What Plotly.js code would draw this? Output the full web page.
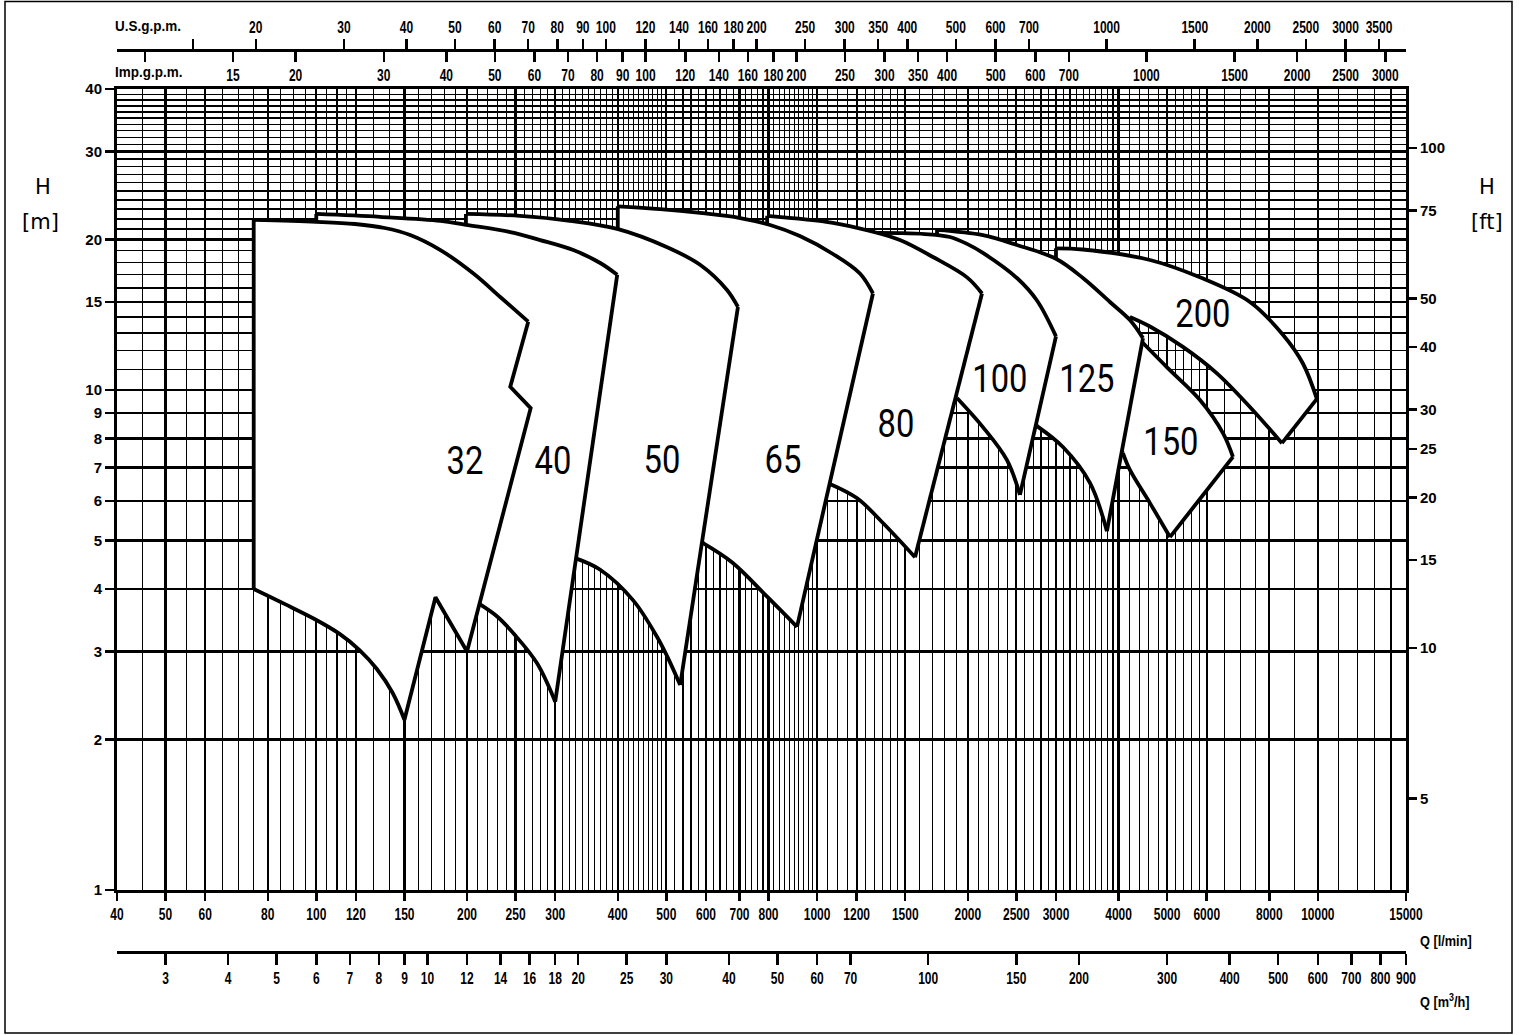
<!DOCTYPE html>
<html><head><meta charset="utf-8">
<script src="https://cdn.plot.ly/plotly-3.0.1.min.js"></script>
<style>html,body{margin:0;padding:0;background:#fff}#chart{width:1519px;height:1035px}</style>
</head><body><div id="chart"></div>
<script>
// ---------- axis tick values ----------
const qTicks = [40,50,60,80,100,120,150,200,250,300,400,500,600,700,800,1000,1200,1500,2000,2500,3000,4000,5000,6000,8000,10000,15000];
const qMinor = [45,55,65,70,75,85,90,95,105,110,115,130,140,160,170,180,190,
  210,220,230,240,260,270,280,290,310,320,330,340,350,360,370,380,390,
  410,420,430,440,450,460,470,480,490,520,540,560,580,620,640,660,680,720,740,760,780,
  820,840,860,880,900,920,940,960,980,1050,1100,1150,1250,1300,1350,1400,1450,
  1600,1700,1800,1900,2100,2200,2300,2400,2600,2700,2800,2900,
  3100,3200,3300,3400,3500,3600,3700,3800,3900,4200,4400,4600,4800,5200,5400,5600,5800,
  6500,7000,7500,9000,11000,12000,13000,14000];
const hTicks = [1,2,3,4,5,6,7,8,9,10,15,20,30,40];
const hMinor = [11,12,13,14,16,17,18,19,21,22,23,24,25,26,27,28,29,31,32,33,34,35,36,37,38,39];
const ftTicks = [5,10,15,20,25,30,40,50,75,100];
const usTicks = [20,30,40,50,60,70,80,90,100,120,140,160,180,200,250,300,350,400,500,600,700,1000,1500,2000,2500,3000,3500];
const usUnlabeled = [15];
const impTicks = [15,20,30,40,50,60,70,80,90,100,120,140,160,180,200,250,300,350,400,500,600,700,1000,1500,2000,2500,3000];
const impUnlabeled = [10];
const m3hTicks = [3,4,5,6,7,8,9,10,12,14,16,18,20,25,30,40,50,60,70,100,150,200,300,400,500,600,700,800,900];

// ---------- unit conversions ----------
const L_PER_USGAL = 3.78541, L_PER_IMPGAL = 4.54609, M3H_PER_LMIN = 0.06, FT_PER_M = 1/0.3048;
const Q_MIN = 40, Q_MAX = 15000, H_MIN = 1, H_MAX = 40;

// ---------- pump envelopes (Q l/min, H m) ----------
const q32 = [75,100,119.5,137,154,177,206,233,265,244,268,200,173,150,142,132,122,111.5,99.4,86.6,75,75];
const h32 = [21.9,21.7,21.48,21.09,20.42,19.05,17.1,15.35,13.7,10.15,9.2,3.0,3.85,2.19,2.48,2.77,3.02,3.25,3.48,3.73,4.0,21.9];
const q40 = [100,134,177,199,244,280,326,369,399,300,276,249,230,212,194,100,100];
const h40 = [22.5,22.2,21.8,21.4,20.7,19.95,19.05,17.95,17.0,2.38,2.84,3.24,3.52,3.73,4.57,15.1,22.5];
const q50 = [199,255,321,399,502,584,661,695,533,504,479,429,369,329,307,199,199];
const h50 = [22.5,22.3,21.8,21.0,19.3,17.8,15.85,14.66,2.57,2.91,3.21,3.80,4.37,4.61,5.01,15.1,22.5];
const q65 = [400,486,584,702,806,924,1076,1218,1293,912,795,679,592,557,400,400];
const h65 = [23.3,23.0,22.6,22.08,21.38,20.32,18.71,17.1,15.6,3.36,3.86,4.51,4.94,5.5,15.1,23.3];
const q80 = [795,1076,1275,1464,1704,1993,2135,1569,1354,1201,1061,1013,795,795];
const h80 = [22.3,21.6,20.8,19.95,18.45,16.8,15.6,4.63,5.42,6.08,6.49,7.24,15.1,22.3];
const q100 = [1163,1464,1643,1842,1993,2144,2507,2749,3000,2542,2395,2144,1903,1605,1275,1163];
const h100 = [20.6,20.6,20.51,20.23,19.6,18.8,16.75,15.1,12.8,6.17,7.24,8.43,9.64,10.5,18.2,20.6];
const q125 = [1736,2144,2507,3000,3396,3845,4215,4475,3792,3507,3098,2749,2542,1736,1736];
const h125 = [20.9,20.4,19.5,18.3,16.75,15.0,13.8,12.7,5.22,6.52,7.69,8.47,9.55,16.6,20.9];
const q150 = [4313,5000,5817,6465,6769,5067,4622,4215,4082,3934,4313];
const h150 = [12.9,11.1,9.55,8.2,7.35,5.08,5.94,6.92,7.48,7.94,12.9];
const q200 = [3000,3396,4622,5817,7318,8518,9338,9957,8479,7318,6289,5378,4622,4215,4026,3349,3000,3000];
const h200 = [19.2,19.1,18.2,16.8,15.0,12.9,11.3,9.6,7.83,9.25,10.8,12.2,13.4,14.0,13.2,15.1,17.0,19.2];

const pumpNames = ['32','40','50','65','80','100','125','150','200'];
const labelQ = [198,297,490,855,1438,2319,3459,5090,5896];
const labelH = [7.21,7.21,7.24,7.24,8.55,10.5,10.5,7.87,14.2];

// ---------- outline drawing style: [from index, to index, line shape] ----------
const envelopes = [
  {q:q200, h:h200, segs:[[0,7,'spline'],[7,8,'linear'],[8,13,'spline'],[13,17,'linear']]},
  {q:q150, h:h150, segs:[[0,4,'spline'],[4,5,'linear'],[5,8,'spline'],[8,10,'linear']]},
  {q:q125, h:h125, segs:[[0,7,'spline'],[7,8,'linear'],[8,11,'spline'],[11,14,'linear']]},
  {q:q100, h:h100, segs:[[0,8,'spline'],[8,9,'linear'],[9,12,'spline'],[12,15,'linear']]},
  {q:q80,  h:h80,  segs:[[0,6,'spline'],[6,7,'linear'],[7,10,'spline'],[10,13,'linear']]},
  {q:q65,  h:h65,  segs:[[0,8,'spline'],[8,9,'linear'],[9,12,'spline'],[12,15,'linear']]},
  {q:q50,  h:h50,  segs:[[0,7,'spline'],[7,8,'linear'],[8,13,'spline'],[13,16,'linear']]},
  {q:q40,  h:h40,  segs:[[0,8,'spline'],[8,9,'linear'],[9,13,'spline'],[13,16,'linear']]},
  {q:q32,  h:h32,  segs:[[0,8,'spline'],[8,13,'linear'],[13,20,'spline'],[20,21,'linear']]}
];

// ---------- page geometry ----------
const W = 1519, HT = 1035, ML = 117, MR = 113, MT = 20, MB = 50;
const PW = W - ML - MR, PH = HT - MT - MB;
const px = X => (X - ML) / PW;
const py = Y => (HT - MB - Y) / PH;

const SANS = "Liberation Sans, Arial, sans-serif";
const ROUND = "DejaVu Sans, sans-serif";
const THIN = "Roboto, Noto Sans, sans-serif";

const traces = [];
traces.push({x:[100], y:[10], xaxis:'x2', yaxis:'y', mode:'markers', marker:{opacity:0}, hoverinfo:'skip'});
traces.push({x:[100], y:[10], xaxis:'x3', yaxis:'y', mode:'markers', marker:{opacity:0}, hoverinfo:'skip'});
traces.push({x:[100], y:[10], xaxis:'x4', yaxis:'y', mode:'markers', marker:{opacity:0}, hoverinfo:'skip'});
traces.push({x:[100], y:[10], xaxis:'x', yaxis:'y2', mode:'markers', marker:{opacity:0}, hoverinfo:'skip'});

envelopes.forEach(env => {
  traces.push({x: env.q, y: env.h, type: 'scatter', mode: 'none', fill: 'toself', fillcolor: '#ffffff',
    hoverinfo: 'skip', xaxis: 'x', yaxis: 'y'});
  env.segs.forEach(([a, b, shp]) => {
    traces.push({x: env.q.slice(a, b + 1), y: env.h.slice(a, b + 1), type: 'scatter', mode: 'lines',
      line: {color: '#000', width: 3.8, shape: shp, smoothing: 1}, hoverinfo: 'skip', xaxis: 'x', yaxis: 'y'});
  });
});

const annotations = [];
const condenseAnn = [];
pumpNames.forEach((t, i) => {
  annotations.push({xref:'x', yref:'y', x: Math.log10(labelQ[i]), y: Math.log10(labelH[i]),
    text: t, showarrow: false, xanchor: 'center', yanchor: 'middle',
    font: {family: THIN, size: 39, color: '#000', weight: 400}});
  condenseAnn.push([0.84, 'middle']);
});
const textNotes = [
  ['U.S.g.p.m.', 113, 26, 'left', SANS, 15, 'bold', 0.9],
  ['Imp.g.p.m.', 113, 72, 'left', SANS, 15, 'bold', 0.9],
  ['Q [l/min]', 1418, 940, 'left', SANS, 15, 'bold', 0.85],
  ['Q [m<sup>3</sup>/h]', 1418, 1000, 'left', SANS, 15, 'bold', 0.85],
  ['H', 43, 187, 'center', ROUND, 21, 'normal', 1],
  ['[m]', 40, 222, 'center', ROUND, 21, 'normal', 1],
  ['H', 1487, 187, 'center', ROUND, 21, 'normal', 1],
  ['[ft]', 1487, 222, 'center', ROUND, 21, 'normal', 1]
];
textNotes.forEach(([t, X, Y, xa, fam, sz, wt, cs]) => {
  annotations.push({xref:'paper', yref:'paper', x: px(X), y: py(Y), text: t, showarrow: false,
    xanchor: xa, yanchor: 'middle', font: {family: fam, size: sz, color: '#000', weight: wt}});
  condenseAnn.push([cs, xa === 'left' ? 'start' : 'middle']);
});

const tickFontNarrow = {family: SANS, size: 16, color: '#000', weight: 'bold'};
const tickFontBold = {family: SANS, size: 15, color: '#000', weight: 'bold'};
const blackTick = {ticks: 'outside', tickwidth: 2.5, tickcolor: '#000'};

const layout = {
  width: W, height: HT,
  margin: {l: ML, r: MR, t: MT, b: MB, pad: 0},
  paper_bgcolor: '#fff', plot_bgcolor: '#fff',
  showlegend: false,
  xaxis: Object.assign({
    type: 'log', range: [Math.log10(Q_MIN), Math.log10(Q_MAX)], domain: [0, 1], autorange: false,
    tickmode: 'array', tickvals: qTicks, ticktext: qTicks.map(String), tickangle: 0,
    ticklen: 8, tickfont: tickFontNarrow,
    showgrid: true, gridcolor: '#000', gridwidth: 2.2,
    minor: {tickmode: 'array', tickvals: qMinor, showgrid: true, gridcolor: '#000', gridwidth: 1.1, ticks: ''},
    showline: true, linecolor: '#000', linewidth: 3, mirror: true, zeroline: false, fixedrange: true
  }, blackTick),
  yaxis: Object.assign({
    type: 'log', range: [Math.log10(H_MIN), Math.log10(H_MAX)], domain: [py(890), py(89)], autorange: false,
    tickmode: 'array', tickvals: hTicks, ticktext: hTicks.map(String),
    ticklen: 9, tickfont: tickFontBold,
    showgrid: true, gridcolor: '#000', gridwidth: 2.2,
    minor: {tickmode: 'array', tickvals: hMinor, showgrid: true, gridcolor: '#000', gridwidth: 1.4, ticks: ''},
    showline: true, linecolor: '#000', linewidth: 3, mirror: true, zeroline: false, fixedrange: true
  }, blackTick),
  yaxis2: Object.assign({
    type: 'log', overlaying: 'y', side: 'right', anchor: 'x', autorange: false,
    range: [Math.log10(H_MIN * FT_PER_M), Math.log10(H_MAX * FT_PER_M)],
    tickmode: 'array', tickvals: ftTicks, ticktext: ftTicks.map(String),
    ticklen: 10, tickfont: tickFontBold,
    showgrid: false, showline: false, zeroline: false, fixedrange: true
  }, blackTick),
  xaxis2: Object.assign({
    type: 'log', overlaying: 'x', anchor: 'free', position: py(50), side: 'top', autorange: false,
    range: [Math.log10(Q_MIN / L_PER_USGAL), Math.log10(Q_MAX / L_PER_USGAL)],
    tickmode: 'array', tickvals: usTicks, ticktext: usTicks.map(String), tickangle: 0,
    ticklen: 10, tickfont: tickFontNarrow,
    minor: {tickmode: 'array', tickvals: usUnlabeled, ticks: 'outside', ticklen: 10, tickwidth: 2.5, tickcolor: '#000', showgrid: false},
    showgrid: false, showline: true, linecolor: '#000', linewidth: 3, zeroline: false, fixedrange: true
  }, blackTick),
  xaxis3: Object.assign({
    type: 'log', overlaying: 'x', anchor: 'free', position: py(50), side: 'bottom', autorange: false,
    range: [Math.log10(Q_MIN / L_PER_IMPGAL), Math.log10(Q_MAX / L_PER_IMPGAL)],
    tickmode: 'array', tickvals: impTicks, ticktext: impTicks.map(String), tickangle: 0,
    ticklen: 10, tickfont: tickFontNarrow,
    minor: {tickmode: 'array', tickvals: impUnlabeled, ticks: 'outside', ticklen: 10, tickwidth: 2.5, tickcolor: '#000', showgrid: false},
    showgrid: false, showline: true, linecolor: '#000', linewidth: 3, zeroline: false, fixedrange: true
  }, blackTick),
  xaxis4: Object.assign({
    type: 'log', overlaying: 'x', anchor: 'free', position: py(952), side: 'bottom', autorange: false,
    range: [Math.log10(Q_MIN * M3H_PER_LMIN), Math.log10(Q_MAX * M3H_PER_LMIN)],
    tickmode: 'array', tickvals: m3hTicks, ticktext: m3hTicks.map(String), tickangle: 0,
    ticklen: 11, tickfont: tickFontNarrow,
    showgrid: false, showline: true, linecolor: '#000', linewidth: 3, zeroline: false, fixedrange: true
  }, blackTick),
  annotations: annotations,
  shapes: [
    {type: 'rect', xref: 'paper', yref: 'paper', x0: px(5), x1: px(1512), y0: py(1033), y1: py(1.5),
     line: {color: '#000', width: 1.5}, fillcolor: 'rgba(0,0,0,0)', layer: 'above'}
  ]
};

function condenseText(el, s, anchor) {
  if (s === 1) return;
  const bb = el.getBBox();
  const cx = anchor === 'middle' ? bb.x + bb.width / 2 : anchor === 'start' ? bb.x : bb.x + bb.width;
  const tr = el.getAttribute('transform') || '';
  el.setAttribute('transform', tr + ' translate(' + cx + ',0) scale(' + s + ',1) translate(' + (-cx) + ',0)');
}

Plotly.newPlot('chart', traces, layout, {displayModeBar: false, staticPlot: true}).then(gd => {
  gd.querySelectorAll('.xtick text, .x2tick text, .x3tick text, .x4tick text').forEach(t => condenseText(t, 0.75, 'middle'));
  gd.querySelectorAll('g.annotation').forEach(g => {
    const idx = +g.getAttribute('data-index');
    const t = g.querySelector('text.annotation-text');
    if (t && condenseAnn[idx]) condenseText(t, condenseAnn[idx][0], condenseAnn[idx][1]);
  });
});
</script></body></html>
